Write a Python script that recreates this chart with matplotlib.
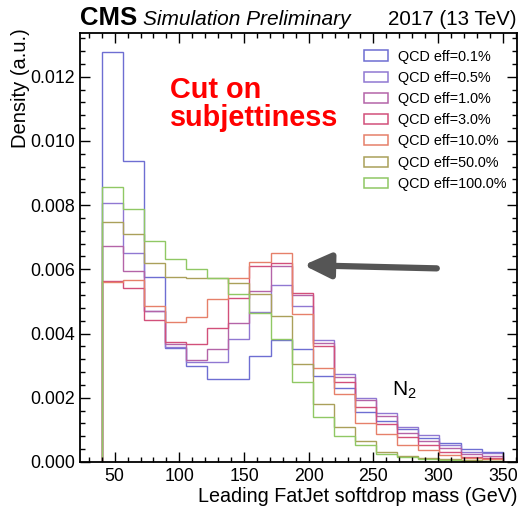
import numpy as np
import matplotlib
matplotlib.use("Agg")
import matplotlib.pyplot as plt
from matplotlib.patches import Patch
from matplotlib.ticker import MultipleLocator

plt.rcParams['font.family'] = ['Liberation Sans', 'DejaVu Sans']
plt.rcParams['mathtext.fontset'] = 'custom'
plt.rcParams['mathtext.rm'] = 'Liberation Sans'

# bin edges (GeV)
bin_edges = np.linspace(40, 350, 20)

labels = ["QCD eff=0.1%", "QCD eff=0.5%", "QCD eff=1.0%", "QCD eff=3.0%",
          "QCD eff=10.0%", "QCD eff=50.0%", "QCD eff=100.0%"]

eff_0p1 = [0.01276, 0.00936, 0.00576, 0.00354, 0.00299, 0.00259, 0.00259, 0.00331, 0.00380, 0.00351,
           0.00268, 0.00230, 0.00157, 0.00128, 0.00103, 0.00076, 0.00060, 0.00040, 0.00032]
eff_0p5 = [0.00806, 0.00651, 0.00470, 0.00359, 0.00312, 0.00312, 0.00382, 0.00468, 0.00551, 0.00486,
           0.00380, 0.00273, 0.00200, 0.00152, 0.00110, 0.00084, 0.00053, 0.00032, 0.00027]
eff_1p0 = [0.00674, 0.00595, 0.00470, 0.00367, 0.00318, 0.00351, 0.00432, 0.00534, 0.00609, 0.00520,
           0.00372, 0.00266, 0.00193, 0.00144, 0.00091, 0.00065, 0.00043, 0.00025, 0.00020]
eff_3p0 = [0.00565, 0.00541, 0.00442, 0.00373, 0.00367, 0.00416, 0.00510, 0.00609, 0.00621, 0.00525,
           0.00361, 0.00250, 0.00172, 0.00117, 0.00079, 0.00053, 0.00032, 0.00017, 0.00013]
eff_10 = [0.00560, 0.00567, 0.00487, 0.00435, 0.00451, 0.00507, 0.00574, 0.00622, 0.00650, 0.00461,
          0.00294, 0.00211, 0.00122, 0.00086, 0.00053, 0.00037, 0.00022, 0.00011, 0.00008]
eff_50 = [0.00747, 0.00710, 0.00621, 0.00577, 0.00574, 0.00572, 0.00557, 0.00523, 0.00455, 0.00304,
          0.00180, 0.00110, 0.00065, 0.00032, 0.00019, 0.00012, 0.00008, 0.00005, 0.00003]
eff_100 = [0.00856, 0.00787, 0.00688, 0.00632, 0.00602, 0.00574, 0.00523, 0.00465, 0.00383, 0.00248,
           0.00141, 0.00082, 0.00053, 0.00025, 0.00015, 0.00008, 0.00005, 0.00003, 0.00002]

series = [eff_0p1, eff_0p5, eff_1p0, eff_3p0, eff_10, eff_50, eff_100]
colors = ['#6e6ed2', '#9078d2', '#b464a8', '#d2507a', '#e6806a', '#aaa05a', '#90c864']

W, H = 524, 507
fig = plt.figure(figsize=(W / 100, H / 100), dpi=100)
ax = fig.add_axes([80 / W, 1 - 462 / H, (517 - 80) / W, (462 - 33) / H])

for vals, c in zip(series, colors):
    ax.stairs(vals, bin_edges, color=c, lw=1.0, baseline=0)

ax.set_xlim(23.2, 361)
ax.set_ylim(0, 0.01336)

ax.xaxis.set_major_locator(MultipleLocator(50))
ax.xaxis.set_minor_locator(MultipleLocator(10))
ax.yaxis.set_major_locator(MultipleLocator(0.002))
ax.yaxis.set_minor_locator(MultipleLocator(0.0004))
ax.yaxis.set_major_formatter(matplotlib.ticker.FormatStrFormatter('%.3f'))
ax.tick_params(which='both', direction='in', top=True, right=True, width=1, labelsize=12.8)
ax.tick_params(which='major', length=7)
ax.tick_params(which='minor', length=3.5)
ax.tick_params(axis='x', pad=4)
for s in ax.spines.values():
    s.set_linewidth(1.3)

ax.set_xlabel("Leading FatJet softdrop mass (GeV)", fontsize=14.2, loc='right')
ax.xaxis.set_label_coords(1.0, -0.058)
ax.set_ylabel("Density (a.u.)", fontsize=14.5, loc='top')
ax.yaxis.set_label_coords(-0.115, 1.01)

# header
fig.text(80 / W, 1 - 25 / H, "CMS", fontsize=18.5, fontweight='bold', ha='left', va='baseline')
fig.text(143 / W, 1 - 25 / H, "Simulation Preliminary", fontsize=15, style='italic', ha='left', va='baseline')
fig.text(517 / W, 1 - 25 / H, "2017 (13 TeV)", fontsize=14.8, ha='right', va='baseline')

# annotations
ax.text(0.205, 0.9, "Cut on\nsubjettiness", transform=ax.transAxes, color='#ff0000',
        fontsize=20.8, fontweight='bold', ha='left', va='top', linespacing=1.0)
ax.text(274, 0.00224, r"N$_{\mathregular{2}}$", fontsize=15, ha='center', va='center')
ax.annotate("", xy=(196, 0.00613), xytext=(299, 0.00603),
            arrowprops=dict(arrowstyle='-|>,head_length=1.6,head_width=0.75', color='#555555', lw=4.5,
                            shrinkA=0, shrinkB=0))

handles = [Patch(facecolor='none', edgecolor=c, lw=1.1) for c in colors]
leg = ax.legend(handles, labels, loc='upper right', bbox_to_anchor=(1.0, 0.985), frameon=False,
                fontsize=10.4, handlelength=1.6, handleheight=0.7, labelspacing=0.5, handletextpad=0.75,
                borderaxespad=0.3)

fig.savefig("out.png", dpi=100)
